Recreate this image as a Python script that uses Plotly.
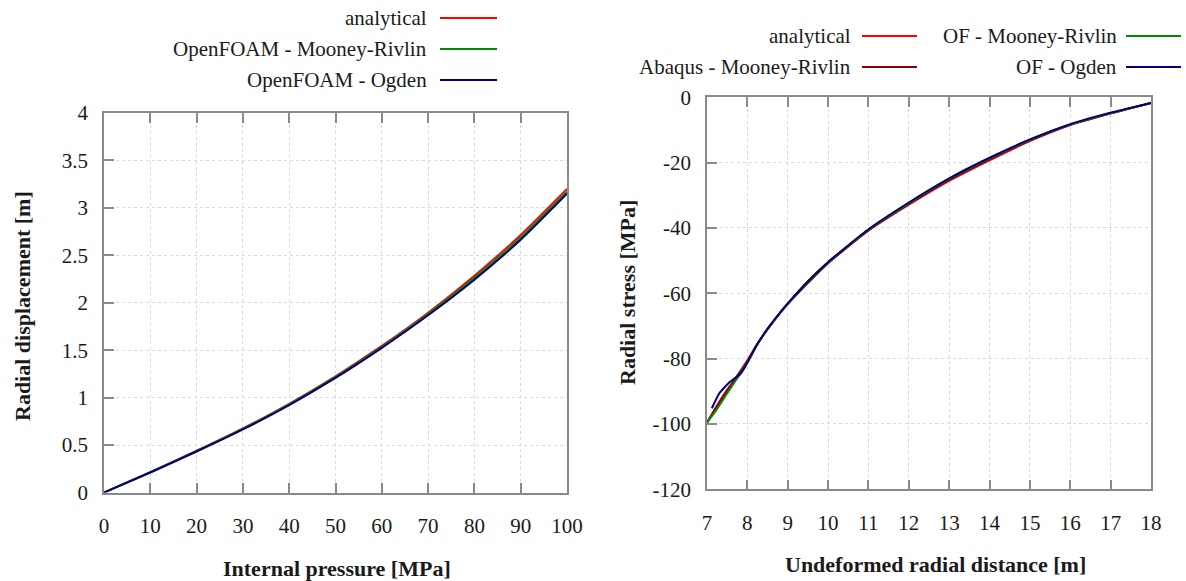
import plotly.graph_objects as go

# ---------------- data ----------------
pressure = [0, 10, 20, 30, 40, 50, 60, 70, 80, 90, 100]
disp_analytical = [0, 0.215, 0.44, 0.675, 0.935, 1.225, 1.545, 1.895, 2.285, 2.715, 3.20]
disp_of_mr = [0, 0.213, 0.436, 0.67, 0.928, 1.216, 1.535, 1.882, 2.262, 2.688, 3.17]
disp_of_ogden = [0, 0.211, 0.432, 0.665, 0.922, 1.208, 1.525, 1.868, 2.243, 2.664, 3.15]

r_analytical = [7, 7.25, 7.5, 7.75, 8, 8.25, 8.5, 8.75, 9, 9.5, 10, 11, 12, 13, 14, 15, 16, 17, 18]
s_analytical = [-99.7, -94.3, -89.5, -85.2, -80.5, -75.4, -71.0, -66.9, -63.2, -56.6, -50.8,
                -40.8, -32.9, -25.6, -19.3, -13.4, -8.5, -4.9, -1.7]

r_abaqus = [7, 7.5, 8, 8.25, 8.5, 8.75, 9, 10, 11, 12, 13, 14, 15, 16, 17, 18]
s_abaqus = [-99.5, -89.8, -80.8, -75.5, -71.0, -67.0, -63.3, -50.7, -40.7, -32.7, -25.3,
            -19.0, -13.2, -8.4, -4.9, -1.7]

r_of_mr = [7, 7.25, 7.5, 7.75, 8, 8.25, 8.5, 8.75, 9, 9.5, 10, 11, 12, 13, 14, 15, 16, 17, 18]
s_of_mr = [-99.6, -95.4, -90.6, -86.0, -81.2, -75.6, -71.0, -66.9, -63.2, -56.4, -50.5,
           -40.5, -32.4, -25.0, -18.7, -13.0, -8.3, -4.8, -1.7]

r_of_ogden = [7.12, 7.3, 7.57, 7.82, 7.94, 8.23, 8.5, 8.75, 9, 9.5, 10, 11, 12, 13, 14, 15, 16, 17, 18]
s_of_ogden = [-95.2, -90.7, -87.1, -84.8, -82.6, -75.9, -70.8, -66.8, -63.1, -56.3, -50.4,
              -40.4, -32.2, -24.8, -18.5, -12.9, -8.2, -4.7, -1.7]

left_names = ["analytical", "OpenFOAM - Mooney-Rivlin", "OpenFOAM - Ogden"]
right_names = ["analytical", "Abaqus - Mooney-Rivlin", "OF - Mooney-Rivlin", "OF - Ogden"]

left_xticks = list(range(0, 101, 10))
left_yticks = [0, 0.5, 1, 1.5, 2, 2.5, 3, 3.5, 4]
right_xticks = list(range(7, 19))
right_yticks = list(range(-120, 1, 20))

RED = "#ff0000"
DARKRED = "#8b0000"
GREEN = "#008a00"
BLUE = "#000080"

W, H = 1186, 581
FONT = "Liberation Serif"


def px(x):
    return x / W


def py(y):
    return 1 - y / H


fig = go.Figure()

# left plot
fig.add_trace(go.Scatter(x=pressure, y=disp_analytical, mode="lines", name=left_names[0],
                         line=dict(color=RED, width=2, shape="spline", smoothing=0.6),
                         xaxis="x", yaxis="y"))
fig.add_trace(go.Scatter(x=pressure, y=disp_of_mr, mode="lines", name=left_names[1],
                         line=dict(color=GREEN, width=2, shape="spline", smoothing=0.6),
                         xaxis="x", yaxis="y"))
fig.add_trace(go.Scatter(x=pressure, y=disp_of_ogden, mode="lines", name=left_names[2],
                         line=dict(color=BLUE, width=2, shape="spline", smoothing=0.6),
                         xaxis="x", yaxis="y"))

# right plot
fig.add_trace(go.Scatter(x=r_analytical, y=s_analytical, mode="lines", name=right_names[0],
                         line=dict(color=RED, width=2, shape="spline", smoothing=0.6),
                         xaxis="x2", yaxis="y2"))
fig.add_trace(go.Scatter(x=r_abaqus, y=s_abaqus, mode="lines", name=right_names[1],
                         line=dict(color=DARKRED, width=2, shape="spline", smoothing=0.6),
                         xaxis="x2", yaxis="y2"))
fig.add_trace(go.Scatter(x=r_of_mr, y=s_of_mr, mode="lines", name=right_names[2],
                         line=dict(color=GREEN, width=2, shape="spline", smoothing=0.6),
                         xaxis="x2", yaxis="y2"))
fig.add_trace(go.Scatter(x=r_of_ogden, y=s_of_ogden, mode="lines", name=right_names[3],
                         line=dict(color=BLUE, width=2, shape="spline", smoothing=0.4),
                         xaxis="x2", yaxis="y2"))

axis_common = dict(
    showline=True, linecolor="#8a8a8a", linewidth=1.5,
    ticks="inside", ticklen=10, tickcolor="#8a8a8a", tickwidth=1.5,
    showgrid=True, gridcolor="#d9d9d9", griddash="dot", gridwidth=1,
    zeroline=False, automargin=False,
    tickfont=dict(family=FONT, size=21, color="#1a1a1a"),
)


def labels(vals):
    return [("%g" % v) for v in vals]


fig.update_layout(
    width=W, height=H,
    margin=dict(l=0, r=0, t=0, b=0, autoexpand=False),
    paper_bgcolor="white", plot_bgcolor="white",
    showlegend=False,
    font=dict(family=FONT, color="#1a1a1a"),
    xaxis=dict(axis_common, domain=[px(104), px(567)], range=[0, 100],
               tickvals=left_xticks, ticktext=labels(left_xticks),
               mirror="ticks", ticklabelstandoff=14, anchor="y"),
    yaxis=dict(axis_common, domain=[py(492.5), py(113)], range=[0, 4],
               tickvals=left_yticks, ticktext=labels(left_yticks),
               mirror=True, ticklabelstandoff=10, anchor="x"),
    xaxis2=dict(axis_common, domain=[px(707), px(1151)], range=[7, 18],
                tickvals=right_xticks, ticktext=labels(right_xticks),
                mirror="ticks", ticklabelstandoff=14, anchor="y2"),
    yaxis2=dict(axis_common, domain=[py(489.3), py(97.3)], range=[-120, 0],
                tickvals=right_yticks, ticktext=labels(right_yticks),
                mirror=True, ticklabelstandoff=10, anchor="x2"),
)

annotations = []
shapes = []

# axis titles
title_font = dict(family=FONT, size=22, color="#1a1a1a")
annotations.append(dict(text="<b>Internal pressure [MPa]</b>", x=px(337), y=py(568),
                        xref="paper", yref="paper", showarrow=False, font=title_font,
                        xanchor="center", yanchor="middle"))
annotations.append(dict(text="<b>Radial displacement [m]</b>", x=px(22), y=py(306),
                        xref="paper", yref="paper", showarrow=False, font=title_font,
                        textangle=-90, xanchor="center", yanchor="middle"))
annotations.append(dict(text="<b>Undeformed radial distance [m]</b>", x=px(935), y=py(564),
                        xref="paper", yref="paper", showarrow=False, font=title_font,
                        xanchor="center", yanchor="middle"))
annotations.append(dict(text="<b>Radial stress [MPa]</b>", x=px(627), y=py(293),
                        xref="paper", yref="paper", showarrow=False, font=title_font,
                        textangle=-90, xanchor="center", yanchor="middle"))

leg_font = dict(family=FONT, size=21, color="#1a1a1a")


def legend_item(name, color, text_right, line_x0, line_x1, y):
    annotations.append(dict(text=name, x=px(text_right), y=py(y), xref="paper", yref="paper",
                            showarrow=False, font=leg_font, xanchor="right", yanchor="middle"))
    shapes.append(dict(type="line", xref="paper", yref="paper",
                       x0=px(line_x0), x1=px(line_x1), y0=py(y), y1=py(y),
                       line=dict(color=color, width=2)))


left_colors = [RED, GREEN, BLUE]
left_rows = [18, 49, 80]
for name, c, yy in zip(left_names, left_colors, left_rows):
    legend_item(name, c, 429, 440, 497, yy)

legend_item(right_names[0], RED, 853, 862, 917, 36)
legend_item(right_names[1], DARKRED, 853, 862, 917, 67)
legend_item(right_names[2], GREEN, 1119, 1126, 1181, 36)
legend_item(right_names[3], BLUE, 1119, 1126, 1181, 67)

fig.update_layout(annotations=annotations, shapes=shapes)

fig.write_html("out.html", config={"displayModeBar": False},
               post_script="document.body.style.margin='0';")
